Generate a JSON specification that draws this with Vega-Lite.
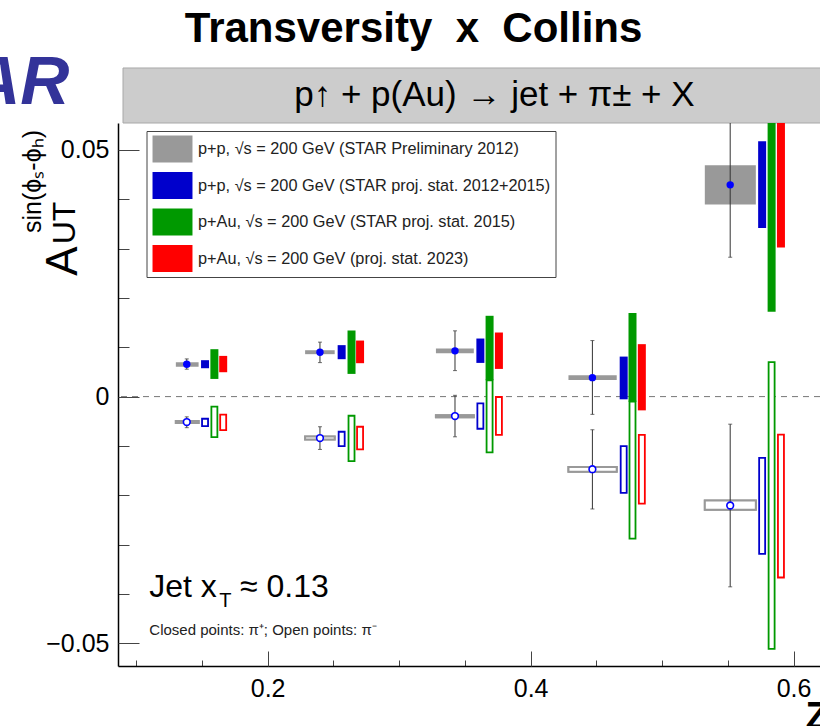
{
  "$schema": "https://vega.github.io/schema/vega-lite/v6.json",
  "width": 702,
  "height": 543,
  "autosize": {"type": "none"},
  "padding": {"left": 118, "top": 123, "right": 0, "bottom": 60},
  "background": "white",
  "config": {"view": {"stroke": null}, "font": "Liberation Sans"},
  "resolve": {"axis": {"x": "independent", "y": "independent"}},
  "datasets": {
    "prelim": [
      {"z": 0.1385, "zlo": 0.1302, "zhi": 0.1475, "a": 0.00656, "slo": 0.00607, "shi": 0.00697, "elo": 0.00555, "ehi": 0.00764, "pion": "plus"},
      {"z": 0.1385, "zlo": 0.1302, "zhi": 0.1475, "a": -0.00516, "slo": -0.00536, "shi": -0.00496, "elo": -0.0063, "ehi": -0.0041, "pion": "minus"},
      {"z": 0.2398, "zlo": 0.2285, "zhi": 0.2510, "a": 0.0090, "slo": 0.0086, "shi": 0.0094, "elo": 0.00689, "ehi": 0.01104, "pion": "plus"},
      {"z": 0.2398, "zlo": 0.2285, "zhi": 0.2510, "a": -0.0084, "slo": -0.00871, "shi": -0.00811, "elo": -0.01071, "ehi": -0.00611, "pion": "minus"},
      {"z": 0.3425, "zlo": 0.3280, "zhi": 0.3568, "a": 0.00927, "slo": 0.0088, "shi": 0.00974, "elo": 0.00527, "ehi": 0.01333, "pion": "plus"},
      {"z": 0.3425, "zlo": 0.3280, "zhi": 0.3568, "a": -0.00394, "slo": -0.0042, "shi": -0.0038, "elo": -0.00815, "ehi": 0.00026, "pion": "minus"},
      {"z": 0.4470, "zlo": 0.4288, "zhi": 0.4655, "a": 0.00384, "slo": 0.00337, "shi": 0.00433, "elo": -0.0036, "ehi": 0.01136, "pion": "plus"},
      {"z": 0.4470, "zlo": 0.4288, "zhi": 0.4655, "a": -0.01472, "slo": -0.01525, "shi": -0.01425, "elo": -0.02278, "ehi": -0.00672, "pion": "minus"},
      {"z": 0.5518, "zlo": 0.5325, "zhi": 0.5713, "a": 0.04292, "slo": 0.03892, "shi": 0.04691, "elo": 0.02825, "ehi": 0.065, "pion": "plus"},
      {"z": 0.5518, "zlo": 0.5325, "zhi": 0.5713, "a": -0.02208, "slo": -0.02295, "shi": -0.02105, "elo": -0.03856, "ehi": -0.00559, "pion": "minus"}
    ],
    "proj": [
      {"exp": "pp2015", "pion": "plus", "z": 0.1524, "lo": 0.00575, "hi": 0.00738},
      {"exp": "pp2015", "pion": "plus", "z": 0.2563, "lo": 0.00758, "hi": 0.01043},
      {"exp": "pp2015", "pion": "plus", "z": 0.3618, "lo": 0.00683, "hi": 0.01177},
      {"exp": "pp2015", "pion": "plus", "z": 0.4708, "lo": -0.00055, "hi": 0.00811},
      {"exp": "pp2015", "pion": "plus", "z": 0.5761, "lo": 0.0342, "hi": 0.05178},
      {"exp": "pp2015", "pion": "minus", "z": 0.1524, "lo": -0.00598, "hi": -0.00449},
      {"exp": "pp2015", "pion": "minus", "z": 0.2563, "lo": -0.01004, "hi": -0.00713},
      {"exp": "pp2015", "pion": "minus", "z": 0.3618, "lo": -0.00652, "hi": -0.00136},
      {"exp": "pp2015", "pion": "minus", "z": 0.4708, "lo": -0.01953, "hi": -0.01004},
      {"exp": "pp2015", "pion": "minus", "z": 0.5761, "lo": -0.03188, "hi": -0.01242},
      {"exp": "pAu2015", "pion": "plus", "z": 0.1595, "lo": 0.00358, "hi": 0.00961},
      {"exp": "pAu2015", "pion": "plus", "z": 0.2638, "lo": 0.0046, "hi": 0.0134},
      {"exp": "pAu2015", "pion": "plus", "z": 0.3688, "lo": 0.00331, "hi": 0.01638},
      {"exp": "pAu2015", "pion": "plus", "z": 0.4775, "lo": -0.00103, "hi": 0.01693},
      {"exp": "pAu2015", "pion": "plus", "z": 0.5833, "lo": 0.0172, "hi": 0.07},
      {"exp": "pAu2015", "pion": "minus", "z": 0.1595, "lo": -0.0082, "hi": -0.00205},
      {"exp": "pAu2015", "pion": "minus", "z": 0.2638, "lo": -0.0131, "hi": -0.00388},
      {"exp": "pAu2015", "pion": "minus", "z": 0.3688, "lo": -0.01132, "hi": 0.00331},
      {"exp": "pAu2015", "pion": "minus", "z": 0.4775, "lo": -0.0288, "hi": -0.00103},
      {"exp": "pAu2015", "pion": "minus", "z": 0.5833, "lo": -0.05112, "hi": 0.00697},
      {"exp": "pAu2023", "pion": "plus", "z": 0.1662, "lo": 0.00494, "hi": 0.00825},
      {"exp": "pAu2023", "pion": "plus", "z": 0.2703, "lo": 0.00677, "hi": 0.01136},
      {"exp": "pAu2023", "pion": "plus", "z": 0.3759, "lo": 0.00561, "hi": 0.01299},
      {"exp": "pAu2023", "pion": "plus", "z": 0.4846, "lo": -0.00279, "hi": 0.01063},
      {"exp": "pAu2023", "pion": "plus", "z": 0.5904, "lo": 0.0302, "hi": 0.07},
      {"exp": "pAu2023", "pion": "minus", "z": 0.1662, "lo": -0.00679, "hi": -0.00367},
      {"exp": "pAu2023", "pion": "minus", "z": 0.2703, "lo": -0.01071, "hi": -0.00611},
      {"exp": "pAu2023", "pion": "minus", "z": 0.3759, "lo": -0.00774, "hi": -0.00008},
      {"exp": "pAu2023", "pion": "minus", "z": 0.4846, "lo": -0.02169, "hi": -0.00774},
      {"exp": "pAu2023", "pion": "minus", "z": 0.5904, "lo": -0.03667, "hi": -0.0077}
    ]
  },
  "layer": [
    {
      "data": {"name": "prelim"},
      "transform": [{"filter": "datum.pion == 'plus'"}],
      "mark": {"type": "rect", "fill": "#999999", "clip": true},
      "encoding": {
        "x": {"field": "zlo", "type": "quantitative", "scale": {"domain": [0.09, 0.6163], "nice": false, "zero": false},
          "axis": {"orient": "bottom", "title": null, "labels": false,
            "values": [0.1, 0.15, 0.25, 0.3, 0.35, 0.45, 0.5, 0.55],
            "ticks": true, "tickSize": -6, "tickColor": "#444444", "tickWidth": 1, "tickOpacity": 1, "domainColor": "black", "domainWidth": 1.5, "grid": false}},
        "x2": {"field": "zhi"},
        "y": {"field": "slo", "type": "quantitative", "scale": {"domain": [-0.05461, 0.05546], "nice": false, "zero": false},
          "axis": {"orient": "left", "title": null, "labels": false,
            "values": [-0.04, -0.03, -0.02, -0.01, 0.01, 0.02, 0.03, 0.04],
            "ticks": true, "tickSize": -11, "tickColor": "#444444", "tickWidth": 1, "tickOpacity": 1, "domainColor": "black", "domainWidth": 1.5, "grid": false}},
        "y2": {"field": "shi"}
      }
    },
    {
      "data": {"name": "prelim"},
      "transform": [{"filter": "datum.pion == 'minus'"}],
      "mark": {"type": "rect", "fill": "white", "stroke": "#999999", "strokeWidth": 2, "clip": true},
      "encoding": {
        "x": {"field": "zlo", "type": "quantitative",
          "axis": {"orient": "bottom", "title": "Z", "titleFont": "Liberation Sans", "titleFontSize": 38, "titleFontWeight": "bold", "titleColor": "black", "titleX": 687, "titleY": 62, "titleAlign": "left", "titleBaseline": "alphabetic",
            "values": [0.2, 0.4, 0.6], "format": ".1f",
            "labelFont": "Liberation Sans", "labelFontSize": 25, "labelColor": "black", "labelPadding": 25, "labelFlush": false, "labelOverlap": false, "labelBound": false,
            "ticks": true, "tickSize": -15, "tickColor": "#444444", "tickWidth": 1, "tickOpacity": 1, "domain": false, "grid": false}},
        "x2": {"field": "zhi"},
        "y": {"field": "slo", "type": "quantitative",
          "axis": {"orient": "left", "title": null,
            "values": [-0.05, 0, 0.05], "format": "~g",
            "labelFont": "Liberation Sans", "labelFontSize": 25, "labelColor": "black", "labelPadding": 30, "labelFlush": false, "labelOverlap": false, "labelBound": false,
            "ticks": true, "tickSize": -21, "tickColor": "#444444", "tickWidth": 1, "tickOpacity": 1, "domain": false, "grid": false}},
        "y2": {"field": "shi"}
      }
    },
    {
      "data": {"values": [{}]},
      "mark": {"type": "rect", "fill": "#cccccc", "stroke": "#a8a8a8", "strokeWidth": 1, "clip": false},
      "encoding": {
        "x": {"datum": 0.09, "type": "quantitative", "axis": null},
        "x2": {"datum": 0.64},
        "y": {"datum": 0.05546, "type": "quantitative", "axis": null},
        "y2": {"datum": 0.06661}
      }
    },
    {
      "data": {"values": [{}]},
      "mark": {"type": "rule", "color": "#777777", "strokeWidth": 1, "strokeDash": [6, 5]},
      "encoding": {"y": {"datum": 0, "type": "quantitative", "axis": null}}
    },
    {
      "data": {"name": "prelim"},
      "transform": [{"filter": "datum.pion == 'minus'"}],
      "mark": {"type": "rect", "fill": "white", "stroke": "#999999", "strokeWidth": 2, "clip": true},
      "encoding": {
        "x": {"field": "zlo", "type": "quantitative", "axis": null},
        "x2": {"field": "zhi"},
        "y": {"field": "slo", "type": "quantitative", "axis": null},
        "y2": {"field": "shi"}
      }
    },
    {
      "data": {"name": "prelim"},
      "mark": {"type": "rule", "color": "#333333", "strokeWidth": 1, "clip": true},
      "encoding": {
        "x": {"field": "z", "type": "quantitative", "axis": null},
        "y": {"field": "elo", "type": "quantitative", "axis": null},
        "y2": {"field": "ehi"}
      }
    },
    {
      "data": {"name": "prelim"},
      "mark": {"type": "tick", "orient": "horizontal", "color": "#333333", "size": 4, "thickness": 1, "clip": true},
      "encoding": {
        "x": {"field": "z", "type": "quantitative", "axis": null},
        "y": {"field": "elo", "type": "quantitative", "axis": null}
      }
    },
    {
      "data": {"name": "prelim"},
      "mark": {"type": "tick", "orient": "horizontal", "color": "#333333", "size": 4, "thickness": 1, "clip": true},
      "encoding": {
        "x": {"field": "z", "type": "quantitative", "axis": null},
        "y": {"field": "ehi", "type": "quantitative", "axis": null}
      }
    },
    {
      "data": {"name": "prelim"},
      "transform": [{"filter": "datum.pion == 'plus'"}],
      "mark": {"type": "point", "shape": "circle", "filled": true, "fill": "#0000ff", "size": 55, "opacity": 1, "clip": true},
      "encoding": {
        "x": {"field": "z", "type": "quantitative", "axis": null},
        "y": {"field": "a", "type": "quantitative", "axis": null}
      }
    },
    {
      "data": {"name": "prelim"},
      "transform": [{"filter": "datum.pion == 'minus'"}],
      "mark": {"type": "point", "shape": "circle", "filled": false, "fill": "white", "stroke": "#0000ff", "strokeWidth": 1.6, "size": 45, "opacity": 1, "clip": true},
      "encoding": {
        "x": {"field": "z", "type": "quantitative", "axis": null},
        "y": {"field": "a", "type": "quantitative", "axis": null}
      }
    },
    {
      "data": {"name": "proj"},
      "transform": [{"filter": "datum.pion == 'plus'"}],
      "mark": {"type": "bar", "size": 8, "clip": true},
      "encoding": {
        "x": {"field": "z", "type": "quantitative", "axis": null},
        "y": {"field": "lo", "type": "quantitative", "axis": null},
        "y2": {"field": "hi"},
        "color": {"field": "exp", "type": "nominal",
          "scale": {"domain": ["prelim2012", "pp2015", "pAu2015", "pAu2023"], "range": ["#999999", "#0000cc", "#009900", "#ff0000"]},
          "legend": {"title": null, "orient": "none", "legendX": 28.5, "legendY": 8, "direction": "vertical",
            "symbolType": "M-1.48,-1H1.48V1H-1.48Z", "symbolSize": 729, "symbolStrokeWidth": 0, "symbolOpacity": 1, "symbolOffset": 8,
            "labelFont": "Liberation Sans", "labelFontSize": 16.3, "labelColor": "#222222", "labelLimit": 0, "labelOffset": 12,
            "rowPadding": 9.5, "padding": 4.5, "strokeColor": "#444444", "fillColor": "white",
            "labelExpr": "{'prelim2012': 'p+p, √s = 200 GeV (STAR Preliminary 2012)', 'pp2015': 'p+p, √s = 200 GeV (STAR proj. stat. 2012+2015)', 'pAu2015': 'p+Au, √s = 200 GeV (STAR proj. stat. 2015)', 'pAu2023': 'p+Au, √s = 200 GeV (proj. stat. 2023)'}[datum.value]"}}
      }
    },
    {
      "data": {"name": "proj"},
      "transform": [{"filter": "datum.pion == 'minus'"}],
      "mark": {"type": "bar", "size": 6, "fill": "white", "strokeWidth": 1.8, "clip": true},
      "encoding": {
        "x": {"field": "z", "type": "quantitative", "axis": null},
        "y": {"field": "lo", "type": "quantitative", "axis": null},
        "y2": {"field": "hi"},
        "stroke": {"field": "exp", "type": "nominal", "legend": null,
          "scale": {"domain": ["prelim2012", "pp2015", "pAu2015", "pAu2023"], "range": ["#999999", "#0000cc", "#009900", "#ff0000"]}}
      }
    },
    {
      "data": {"values": [{}]},
      "mark": {"type": "point", "shape": "circle", "filled": true, "fill": "#0000ff", "size": 30, "opacity": 1, "clip": false},
      "encoding": {"x": {"datum": 0.131, "type": "quantitative", "axis": null}, "y": {"datum": 0.05019, "type": "quantitative", "axis": null}}
    },
    {
      "data": {"values": [{}]},
      "mark": {"type": "text", "text": "Transversity\u00a0\u00a0x\u00a0\u00a0Collins", "font": "Liberation Sans", "fontSize": 42, "fontWeight": "bold", "color": "black", "align": "center", "baseline": "alphabetic", "clip": false},
      "encoding": {"x": {"datum": 0.311, "type": "quantitative", "axis": null}, "y": {"datum": 0.07188, "type": "quantitative", "axis": null}}
    },
    {
      "data": {"values": [{}]},
      "mark": {"type": "text", "text": "p\u2191 + p(Au) \u2192 jet + \u03c0\u00b1 + X", "font": "Liberation Sans", "fontSize": 35, "color": "black", "align": "center", "baseline": "middle", "clip": false},
      "encoding": {"x": {"datum": 0.3725, "type": "quantitative", "axis": null}, "y": {"datum": 0.06114, "type": "quantitative", "axis": null}}
    },
    {
      "data": {"values": [{}]},
      "mark": {"type": "text", "text": "STAR", "font": "Liberation Sans", "fontSize": 68, "fontWeight": "bold", "fontStyle": "italic", "color": "#333399", "align": "right", "baseline": "alphabetic", "clip": false},
      "encoding": {"x": {"datum": 0.04925, "type": "quantitative", "axis": null}, "y": {"datum": 0.05932, "type": "quantitative", "axis": null}}
    },
    {
      "data": {"values": [{}]},
      "mark": {"type": "text", "text": "A", "font": "Liberation Sans", "fontSize": 44, "color": "black", "align": "center", "baseline": "middle", "angle": 270, "clip": false},
      "encoding": {"x": {"datum": 0.0455, "type": "quantitative", "axis": null}, "y": {"datum": 0.02749, "type": "quantitative", "axis": null}}
    },
    {
      "data": {"values": [{}]},
      "mark": {"type": "text", "text": "UT", "font": "Liberation Sans", "fontSize": 32, "color": "black", "align": "center", "baseline": "middle", "angle": 270, "clip": false},
      "encoding": {"x": {"datum": 0.04625, "type": "quantitative", "axis": null}, "y": {"datum": 0.03519, "type": "quantitative", "axis": null}}
    },
    {
      "data": {"values": [{}]},
      "mark": {"type": "text", "text": "sin(\u03d5\u209b-\u03d5\u2095)", "font": "Liberation Sans", "fontSize": 25, "color": "black", "align": "center", "baseline": "middle", "angle": 270, "clip": false},
      "encoding": {"x": {"datum": 0.0215, "type": "quantitative", "axis": null}, "y": {"datum": 0.0436, "type": "quantitative", "axis": null}}
    },
    {
      "data": {"values": [{}]},
      "mark": {"type": "text", "text": "Jet x", "font": "Liberation Sans", "fontSize": 32, "color": "black", "align": "left", "baseline": "alphabetic"},
      "encoding": {"x": {"datum": 0.11, "type": "quantitative", "axis": null}, "y": {"datum": -0.04069, "type": "quantitative", "axis": null}}
    },
    {
      "data": {"values": [{}]},
      "mark": {"type": "text", "text": "T", "font": "Liberation Sans", "fontSize": 20, "color": "black", "align": "left", "baseline": "alphabetic"},
      "encoding": {"x": {"datum": 0.16325, "type": "quantitative", "axis": null}, "y": {"datum": -0.04265, "type": "quantitative", "axis": null}}
    },
    {
      "data": {"values": [{}]},
      "mark": {"type": "text", "text": "\u2248 0.13", "font": "Liberation Sans", "fontSize": 32, "color": "black", "align": "left", "baseline": "alphabetic"},
      "encoding": {"x": {"datum": 0.179, "type": "quantitative", "axis": null}, "y": {"datum": -0.04069, "type": "quantitative", "axis": null}}
    },
    {
      "data": {"values": [{}]},
      "mark": {"type": "text", "text": "Closed points: \u03c0\u207a; Open points: \u03c0\u207b", "font": "Liberation Sans", "fontSize": 15, "color": "#222222", "align": "left", "baseline": "alphabetic"},
      "encoding": {"x": {"datum": 0.11, "type": "quantitative", "axis": null}, "y": {"datum": -0.04833, "type": "quantitative", "axis": null}}
    }
  ]
}
